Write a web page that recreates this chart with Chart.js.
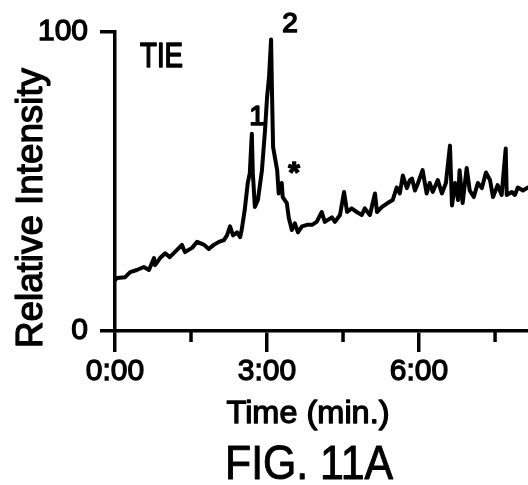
<!DOCTYPE html>
<html>
<head>
<meta charset="utf-8">
<script src="https://cdn.jsdelivr.net/npm/chart.js@4/dist/chart.umd.min.js"></script>
<style>
html,body{margin:0;padding:0;background:#fff;overflow:hidden;}
#wrap{width:528px;height:485px;position:relative;}
</style>
</head>
<body>
<div id="wrap"><canvas id="c" width="528" height="485"></canvas></div>
<script>
// ---- data ----
const times = [0, 0.04, 0.20, 0.30, 0.43, 0.57, 0.67, 0.77, 0.79, 0.89, 0.99, 1.08, 1.18, 1.32, 1.38, 1.52, 1.62, 1.76, 1.85, 1.95, 2.05, 2.15, 2.21, 2.27, 2.33, 2.41, 2.47, 2.50, 2.56, 2.62, 2.66, 2.70, 2.72, 2.76, 2.82, 2.90, 2.96, 3.00, 3.04, 3.08, 3.10, 3.12, 3.20, 3.23, 3.29, 3.31, 3.39, 3.43, 3.49, 3.55, 3.61, 3.69, 3.79, 3.89, 3.98, 4.08, 4.14, 4.28, 4.34, 4.44, 4.52, 4.58, 4.67, 4.77, 4.87, 4.93, 5.03, 5.13, 5.17, 5.27, 5.38, 5.48, 5.56, 5.62, 5.68, 5.76, 5.82, 5.86, 5.92, 5.98, 6.07, 6.15, 6.21, 6.27, 6.37, 6.45, 6.53, 6.61, 6.65, 6.71, 6.77, 6.80, 6.86, 6.94, 7.00, 7.08, 7.16, 7.24, 7.32, 7.40, 7.46, 7.55, 7.63, 7.71, 7.73, 7.83, 7.89, 7.95, 8.05, 8.15];
const intensity = [17, 17.7, 18, 19.7, 20.4, 21.4, 20.4, 24.4, 22, 24.4, 26, 24.7, 26.4, 28.8, 26.4, 27.8, 29.8, 28.8, 27.4, 28.8, 29.8, 30.4, 32, 35, 32, 33, 31.4, 33.8, 40.5, 49.5, 52.8, 66, 52.8, 41.5, 43.8, 53.8, 67, 78, 85, 97.5, 78, 61.5, 53.8, 46, 49.5, 44.8, 42.8, 37.8, 33.8, 36, 33, 35, 35.5, 35.5, 36.5, 39.8, 36.5, 38, 36.5, 38.8, 46.5, 39.8, 41, 39.8, 38.8, 41, 38.8, 46, 39.8, 41.5, 42.8, 43.8, 48, 46, 52, 47.8, 50.5, 51, 47, 49.5, 53.8, 46, 49.5, 46.5, 50.5, 46, 49.5, 62, 42, 49.5, 43.8, 53.8, 42.8, 54.5, 47, 44.8, 49.5, 47.8, 53, 50.5, 44.8, 48.8, 45.5, 61, 45.5, 46.5, 45.5, 48, 47, 48];
const xMajorTicks = [0, 3, 6];
const xMajorLabels = ['0:00', '3:00', '6:00'];
const xMinorTicks = [1.5, 4.5, 7.5];
const yTicks = [0, 100];
const yTickLabels = ['0', '100'];
const xTitle = 'Time (min.)';
const yTitle = 'Relative Intensity';
const figCaption = 'FIG. 11A';
const traceLabel = 'TIE';
const peakLabels = ['1', '2', '*'];

const FONT = "'Liberation Sans', Arial, sans-serif";

function drawText(ctx, text, x, y, size, opts) {
  opts = opts || {};
  ctx.save();
  ctx.font = (opts.weight || 'normal') + ' ' + size + 'px ' + FONT;
  ctx.fillStyle = '#000';
  ctx.strokeStyle = '#000';
  ctx.lineWidth = opts.stroke == null ? 1.3 : opts.stroke;
  ctx.lineJoin = 'round';
  ctx.textBaseline = 'alphabetic';
  ctx.translate(x, y);
  if (opts.rotate) ctx.rotate(opts.rotate);
  const w = ctx.measureText(text).width;
  const sx = opts.width ? opts.width / w : 1;
  ctx.scale(sx, 1);
  const align = opts.align || 'center';
  let dx = 0;
  if (align === 'center') dx = -w / 2;
  else if (align === 'right') dx = -w;
  ctx.fillText(text, dx, 0);
  if (ctx.lineWidth > 0) ctx.strokeText(text, dx, 0);
  ctx.restore();
}

const decor = {
  id: 'decor',
  afterDraw(chart) {
    const ctx = chart.ctx;
    const xs = chart.scales.x, ys = chart.scales.y;
    // minor ticks
    ctx.save();
    ctx.strokeStyle = '#000';
    ctx.lineWidth = 3.5;
    const y0 = ys.getPixelForValue(0);
    xMinorTicks.forEach(v => {
      const px = xs.getPixelForValue(v);
      ctx.beginPath();
      ctx.moveTo(px, y0);
      ctx.lineTo(px, y0 + 11);
      ctx.stroke();
    });
    ctx.restore();
    // titles
    drawText(ctx, xTitle, 308, 423, 32, {width: 163});
    drawText(ctx, figCaption, 309, 479, 48, {width: 168, stroke: 1});
    drawText(ctx, yTitle, 42, 208, 36, {rotate: -Math.PI / 2, width: 280});
    // annotations
    drawText(ctx, traceLabel, 140, 67, 35, {align: 'left', width: 43, stroke: 1.6});
    drawText(ctx, peakLabels[0], 257, 125, 28, {stroke: 1.6});
    drawText(ctx, peakLabels[1], 290, 32, 28, {stroke: 1.6});
    drawText(ctx, peakLabels[2], 294, 182, 30, {weight: 'bold'});
  }
};

new Chart(document.getElementById('c'), {
  type: 'line',
  data: {
    datasets: [{
      data: times.map((t, i) => ({x: t, y: intensity[i]})),
      borderColor: '#000',
      borderWidth: 4,
      pointRadius: 0,
      tension: 0,
      borderJoinStyle: 'round',
      borderCapStyle: 'round',
      fill: false
    }]
  },
  options: {
    responsive: false,
    animation: false,
    devicePixelRatio: 1,
    layout: {padding: {top: 32, left: 0, right: 0, bottom: 0}},
    plugins: {legend: {display: false}, tooltip: {enabled: false}, title: {display: false}},
    scales: {
      x: {
        type: 'linear',
        min: 0,
        max: 8.15,
        afterBuildTicks: s => { s.ticks = xMajorTicks.map(v => ({value: v})); },
        afterFit: s => { s.height = 154; },
        ticks: {
          autoSkip: false,
          maxRotation: 0,
          padding: 2,
          color: '#000',
          textStrokeColor: '#000',
          textStrokeWidth: 1.3,
          font: {family: FONT, size: 30},
          callback: v => { const i = xMajorTicks.indexOf(v); return i >= 0 ? xMajorLabels[i] : ''; }
        },
        grid: {drawOnChartArea: false, drawTicks: true, tickLength: 21, color: '#000', lineWidth: 3.5},
        border: {display: true, color: '#000', width: 3.5}
      },
      y: {
        type: 'linear',
        min: 0,
        max: 100,
        afterBuildTicks: s => { s.ticks = yTicks.map(v => ({value: v})); },
        afterFit: s => { s.width = 115; },
        ticks: {
          autoSkip: false,
          padding: 12,
          color: '#000',
          textStrokeColor: '#000',
          textStrokeWidth: 1.3,
          font: {family: FONT, size: 30},
          callback: v => { const i = yTicks.indexOf(v); return i >= 0 ? yTickLabels[i] : ''; }
        },
        grid: {drawOnChartArea: false, drawTicks: true, tickLength: 15, color: '#000', lineWidth: 3.5},
        border: {display: true, color: '#000', width: 3.5}
      }
    }
  },
  plugins: [decor]
});
</script>
</body>
</html>
